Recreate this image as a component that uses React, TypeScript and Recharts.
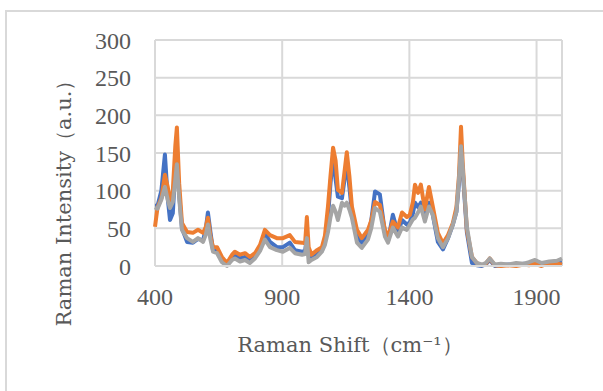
import { LineChart, Line, XAxis, YAxis, CartesianGrid } from 'recharts';

// Raman shift (cm-1) sample positions
const shifts = [
  400, 410, 425, 439, 450, 459, 470, 480, 486, 495, 506, 526, 549, 569, 589, 600, 608, 618, 628, 644,
  663, 683, 703, 714, 734, 754, 773, 793, 813, 832, 852, 879, 903, 930, 950, 978, 990, 997, 1004, 1015,
  1037, 1056, 1068, 1080, 1090, 1100, 1110, 1119, 1135, 1145, 1154, 1164, 1174, 1194, 1213, 1237, 1250, 1265, 1284, 1304,
  1316, 1335, 1355, 1371, 1390, 1402, 1414, 1422, 1434, 1445, 1461, 1477, 1492, 1512, 1532, 1552, 1571, 1585, 1595, 1603,
  1610, 1626, 1646, 1665, 1685, 1700, 1716, 1736, 1760, 1790, 1820, 1850, 1870, 1894, 1920, 1950, 1980, 2000,
];

const blue = [
  80, 80, 100, 148, 90, 61, 70, 130, 140, 95, 50, 32, 31, 36, 34, 50, 71, 45, 21, 20,
  10, 2, 10, 14, 10, 12, 7, 12, 25, 44, 32, 25, 25, 31, 21, 19, 20, 38, 14, 12,
  17, 20, 32, 65, 110, 145, 115, 92, 90, 115, 137, 105, 72, 39, 31, 41, 60, 99, 95, 44,
  33, 68, 44, 61, 55, 58, 70, 84, 78, 84, 65, 84, 68, 32, 22, 37, 55, 72, 110, 155,
  125, 45, 4, 1, 0, 2, 8, 0, 1, 2, 1, 3, 2, 4, 2, 5, 4, 5,
];

const orange = [
  52, 78, 90, 121, 105, 84, 100, 160, 184, 110, 57, 45, 44, 48, 44, 52, 64, 40, 25, 25,
  12, 4, 15, 19, 15, 17, 12, 17, 28, 48, 41, 37, 37, 41, 32, 31, 30, 65, 25, 15,
  21, 25, 40, 79, 120, 157, 140, 101, 97, 125, 151, 120, 79, 48, 37, 48, 60, 85, 81, 48,
  39, 59, 51, 71, 65, 68, 85, 108, 97, 108, 75, 105, 79, 44, 30, 41, 57, 78, 120, 185,
  135, 48, 12, 4, 1, 3, 10, 1, 0, 1, 0, 2, 1, 3, 0, 4, 3, 2,
];

const gray = [
  78, 76, 88, 105, 88, 77, 85, 115, 135, 90, 48, 37, 32, 37, 32, 42, 55, 35, 19, 17,
  5, 0, 8, 10, 6, 8, 4, 10, 20, 35, 25, 21, 19, 24, 17, 15, 16, 37, 5, 8,
  12, 19, 28, 45, 65, 80, 72, 61, 84, 80, 84, 75, 64, 31, 24, 35, 50, 77, 72, 39,
  31, 51, 39, 51, 48, 55, 62, 64, 71, 79, 59, 79, 68, 37, 25, 37, 55, 72, 115, 159,
  128, 52, 12, 4, 2, 4, 10, 2, 3, 2, 4, 3, 5, 8, 4, 6, 7, 10,
];

const xTicks = [400, 900, 1400, 1900];
const yTicks = [0, 50, 100, 150, 200, 250, 300];

const data = shifts.map((s, i) => ({ shift: s, a: blue[i], b: orange[i], c: gray[i] }));

const FONT = '"DejaVu Serif", serif';
const TICK_FONT = '"Liberation Serif", serif';
const TEXT = '#595959';
const GRID = '#d9d9d9';

export default function App() {
  return (
    <div style={{ position: 'absolute', left: 0, top: 0, width: 603, height: 391, background: '#fff' }}>
      <div
        style={{
          position: 'absolute', left: 5, top: 10, width: 598, height: 381,
          borderTop: `2px solid ${GRID}`, borderLeft: `2px solid ${GRID}`,
        }}
      />
      <LineChart
        width={603}
        height={391}
        data={data}
        margin={{ top: 40, right: 41, left: 0, bottom: 95 }}
        style={{ position: 'absolute', left: 0, top: 0 }}
      >
        <CartesianGrid stroke={GRID} strokeWidth={2} />
        <XAxis
          dataKey="shift"
          type="number"
          domain={[400, 2000]}
          ticks={xTicks}
          height={30}
          tickLine={false}
          tickSize={0}
          tickMargin={22}
          axisLine={{ stroke: GRID, strokeWidth: 2 }}
          tick={{ fill: TEXT, fontSize: 24, fontFamily: TICK_FONT }}
          label={{
            content: () => (
              <text x={350} y={352} textAnchor="middle" fill={TEXT} fontSize={21} fontFamily={FONT}>
                Raman Shift（cm⁻¹）
              </text>
            ),
          }}
        />
        <YAxis
          type="number"
          domain={[0, 300]}
          ticks={yTicks}
          width={155}
          tickLine={false}
          tickSize={0}
          tickMargin={24}
          axisLine={false}
          tick={{ fill: TEXT, fontSize: 24, fontFamily: TICK_FONT }}
          label={{
            content: () => (
              <text
                x={64}
                y={198}
                transform="rotate(-90 64 198)"
                textAnchor="middle"
                dominantBaseline="central"
                fill={TEXT}
                fontSize={21}
                fontFamily={FONT}
              >
                Raman Intensity（a.u.）
              </text>
            ),
          }}
        />
        <Line dataKey="a" stroke="#4472C4" strokeWidth={4} dot={false} isAnimationActive={false} strokeLinejoin="round" />
        <Line dataKey="b" stroke="#ED7D31" strokeWidth={4} dot={false} isAnimationActive={false} strokeLinejoin="round" />
        <Line dataKey="c" stroke="#A5A5A5" strokeWidth={4} dot={false} isAnimationActive={false} strokeLinejoin="round" />
      </LineChart>
    </div>
  );
}
